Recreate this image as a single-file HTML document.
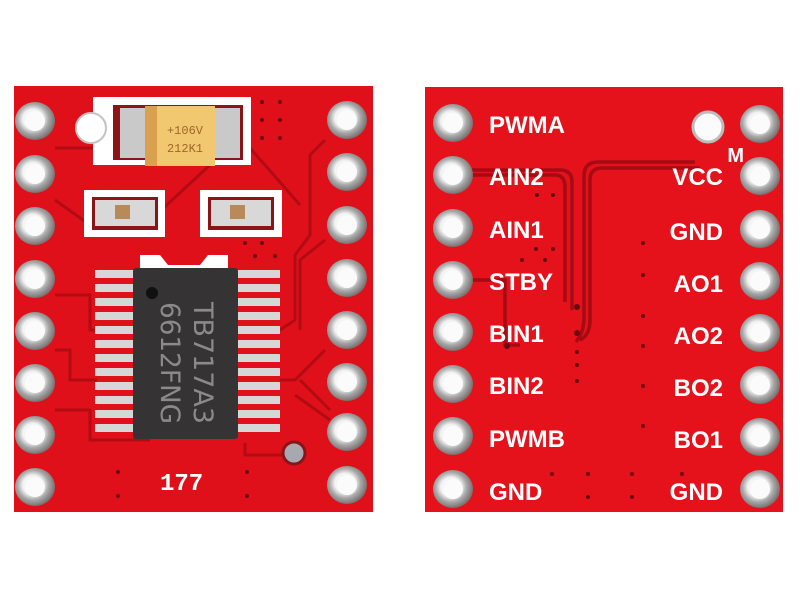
<!DOCTYPE html>
<html><head><style>
html,body{margin:0;padding:0;background:#fff;}
svg{display:block;}
</style></head><body>
<svg width="800" height="600" viewBox="0 0 800 600" xmlns="http://www.w3.org/2000/svg">
<defs>
<radialGradient id="pad" cx="0.45" cy="0.45" r="0.6">
<stop offset="0.42" stop-color="#f4f4f4"/><stop offset="0.65" stop-color="#a8a8a8"/><stop offset="1" stop-color="#6a6262"/>
</radialGradient>
<g id="p"><ellipse rx="20" ry="19" fill="url(#pad)"/><ellipse rx="10" ry="10" fill="#fbfbfb"/></g>
</defs>
<rect width="800" height="600" fill="#fff"/>

<!-- LEFT BOARD -->
<rect x="14" y="86" width="359" height="426" fill="#e0101a"/>
<g fill="none" stroke="#a80a12" stroke-width="3" opacity="0.8">
<path d="M55 148 H250 L300 205"/>
<path d="M55 200 L90 225 H145 L210 165"/>
<path d="M55 295 H90 V330 H97"/>
<path d="M55 350 H70 V380 H97"/>
<path d="M55 410 H90 V440 H150"/>
<path d="M325 140 L310 155 V235 L295 255 V320 L280 330"/>
<path d="M325 240 L300 260 V330"/>
<path d="M325 350 L295 380 H280"/>
<path d="M330 410 L300 380"/>
<path d="M330 420 L295 395"/>
<path d="M245 443 V455 H300"/>
</g>
<rect x="93" y="97" width="158" height="68" fill="#fff"/>
<rect x="113" y="105" width="130" height="55" fill="#8a1418"/>
<rect x="120" y="108" width="28" height="50" fill="#c9c9c9"/>
<rect x="212" y="108" width="28" height="50" fill="#c9c9c9"/>
<rect x="145" y="106" width="70" height="60" fill="#f1c870"/>
<rect x="145" y="106" width="12" height="60" fill="#d9a050"/>
<text x="185" y="134" font-family="Liberation Mono, monospace" font-size="12" fill="#9a6a2a" text-anchor="middle">+106V</text>
<text x="185" y="152" font-family="Liberation Mono, monospace" font-size="12" fill="#9a6a2a" text-anchor="middle">212K1</text>
<circle cx="91" cy="128" r="15" fill="#fff" stroke="#c3c3c3" stroke-width="2"/>
<rect x="84" y="190" width="81" height="47" fill="#fff"/>
<rect x="92" y="197" width="66" height="33" fill="#8a1418"/>
<rect x="95" y="200" width="60" height="26" fill="#d8d8d8"/>
<rect x="115" y="205" width="15" height="14" fill="#b88a5a"/>
<rect x="200" y="190" width="82" height="47" fill="#fff"/>
<rect x="208" y="197" width="66" height="33" fill="#8a1418"/>
<rect x="211" y="200" width="60" height="26" fill="#d8d8d8"/>
<rect x="230" y="205" width="15" height="14" fill="#b88a5a"/>
<path d="M140 270 V255 H160 L168 265 H200 L208 255 H228 V270 Z" fill="#fff"/>
<g fill="#d6d6d6">
<rect x="95" y="270" width="40" height="8"/><rect x="95" y="284" width="40" height="8"/><rect x="95" y="298" width="40" height="8"/><rect x="95" y="312" width="40" height="8"/><rect x="95" y="326" width="40" height="8"/><rect x="95" y="340" width="40" height="8"/><rect x="95" y="354" width="40" height="8"/><rect x="95" y="368" width="40" height="8"/><rect x="95" y="382" width="40" height="8"/><rect x="95" y="396" width="40" height="8"/><rect x="95" y="410" width="40" height="8"/><rect x="95" y="424" width="40" height="8"/>
<rect x="236" y="270" width="44" height="8"/><rect x="236" y="284" width="44" height="8"/><rect x="236" y="298" width="44" height="8"/><rect x="236" y="312" width="44" height="8"/><rect x="236" y="326" width="44" height="8"/><rect x="236" y="340" width="44" height="8"/><rect x="236" y="354" width="44" height="8"/><rect x="236" y="368" width="44" height="8"/><rect x="236" y="382" width="44" height="8"/><rect x="236" y="396" width="44" height="8"/><rect x="236" y="410" width="44" height="8"/><rect x="236" y="424" width="44" height="8"/>
</g>
<rect x="133" y="268" width="105" height="171" rx="3" fill="#353334"/>
<circle cx="152" cy="293" r="6" fill="#111"/>
<text transform="translate(194,302) rotate(90)" font-family="DejaVu Sans, sans-serif" font-size="27" fill="#8a8a8a" textLength="122" lengthAdjust="spacingAndGlyphs">TB717A3</text>
<text transform="translate(161,302) rotate(90)" font-family="DejaVu Sans, sans-serif" font-size="27" fill="#8a8a8a" textLength="122" lengthAdjust="spacingAndGlyphs">6612FNG</text>
<circle cx="294" cy="453" r="11" fill="#a8a8b0" stroke="#8a1418" stroke-width="3"/>
<text x="160" y="490" font-family="Liberation Mono, monospace" font-size="24" font-weight="bold" fill="#fff">177</text>
<g fill="#6a0a0e">
<circle cx="118" cy="472" r="2"/><circle cx="118" cy="496" r="2"/><circle cx="247" cy="472" r="2"/><circle cx="247" cy="496" r="2"/><circle cx="262" cy="102" r="2"/><circle cx="280" cy="102" r="2"/><circle cx="262" cy="120" r="2"/><circle cx="280" cy="120" r="2"/><circle cx="262" cy="138" r="2"/><circle cx="280" cy="138" r="2"/><circle cx="245" cy="243" r="2"/><circle cx="262" cy="243" r="2"/><circle cx="255" cy="256" r="2"/><circle cx="275" cy="256" r="2"/>
</g>
<use href="#p" x="35" y="121"/><use href="#p" x="35" y="174"/><use href="#p" x="35" y="226"/><use href="#p" x="35" y="279"/><use href="#p" x="35" y="331"/><use href="#p" x="35" y="383"/><use href="#p" x="35" y="435"/><use href="#p" x="35" y="487"/>
<use href="#p" x="347" y="120"/><use href="#p" x="347" y="172"/><use href="#p" x="347" y="225"/><use href="#p" x="347" y="278"/><use href="#p" x="347" y="330"/><use href="#p" x="347" y="382"/><use href="#p" x="347" y="432"/><use href="#p" x="347" y="485"/>

<!-- RIGHT BOARD -->
<rect x="425" y="87" width="358" height="425" fill="#e5121c"/>
<g fill="none" stroke="#a00a12" stroke-width="3.5" opacity="0.9">
<path d="M470 170 H560 Q572 170 572 182 V310"/>
<path d="M470 175 H555 Q565 175 565 187 V302"/>
<path d="M580 340 Q590 335 590 320 V180 Q590 168 602 168 H700"/>
<path d="M576 342 Q584 332 584 318 V176 Q584 162 598 162 H695"/>
<path d="M470 280 H505 V345 H520"/>
</g>
<g fill="#6a0a0e">
<circle cx="577" cy="307" r="3"/><circle cx="577" cy="333" r="3"/><circle cx="577" cy="352" r="2"/><circle cx="577" cy="365" r="2"/><circle cx="577" cy="381" r="2"/><circle cx="643" cy="243" r="2"/><circle cx="643" cy="275" r="2"/><circle cx="643" cy="316" r="2"/><circle cx="643" cy="346" r="2"/><circle cx="643" cy="386" r="2"/><circle cx="643" cy="426" r="2"/><circle cx="553" cy="195" r="2"/><circle cx="537" cy="195" r="2"/><circle cx="553" cy="249" r="2"/><circle cx="536" cy="249" r="2"/><circle cx="522" cy="260" r="2"/><circle cx="545" cy="260" r="2"/><circle cx="507" cy="346" r="3"/><circle cx="552" cy="474" r="2"/><circle cx="588" cy="474" r="2"/><circle cx="632" cy="474" r="2"/><circle cx="682" cy="474" r="2"/><circle cx="588" cy="497" r="2"/><circle cx="632" cy="497" r="2"/>
</g>
<circle cx="708" cy="127" r="15" fill="#fbfbfb" stroke="#bdbdbd" stroke-width="3"/>
<g font-family="Liberation Sans, sans-serif" font-weight="bold" font-size="24" fill="#fff">
<text x="489" y="133">PWMA</text>
<text x="489" y="185">AIN2</text>
<text x="489" y="238">AIN1</text>
<text x="489" y="290">STBY</text>
<text x="489" y="342">BIN1</text>
<text x="489" y="394">BIN2</text>
<text x="489" y="447">PWMB</text>
<text x="489" y="500">GND</text>
<g text-anchor="end">
<text x="723" y="185">VCC</text>
<text x="723" y="240">GND</text>
<text x="723" y="292">AO1</text>
<text x="723" y="344">AO2</text>
<text x="723" y="396">BO2</text>
<text x="723" y="448">BO1</text>
<text x="723" y="500">GND</text>
<text x="744" y="162" font-size="20">M</text>
</g>
</g>
<use href="#p" x="453" y="123"/><use href="#p" x="453" y="175"/><use href="#p" x="453" y="228"/><use href="#p" x="453" y="280"/><use href="#p" x="453" y="332"/><use href="#p" x="453" y="384"/><use href="#p" x="453" y="436"/><use href="#p" x="453" y="489"/>
<use href="#p" x="760" y="124"/><use href="#p" x="760" y="176"/><use href="#p" x="760" y="229"/><use href="#p" x="760" y="281"/><use href="#p" x="760" y="333"/><use href="#p" x="760" y="385"/><use href="#p" x="760" y="437"/><use href="#p" x="760" y="489"/>
</svg>
</body></html>
